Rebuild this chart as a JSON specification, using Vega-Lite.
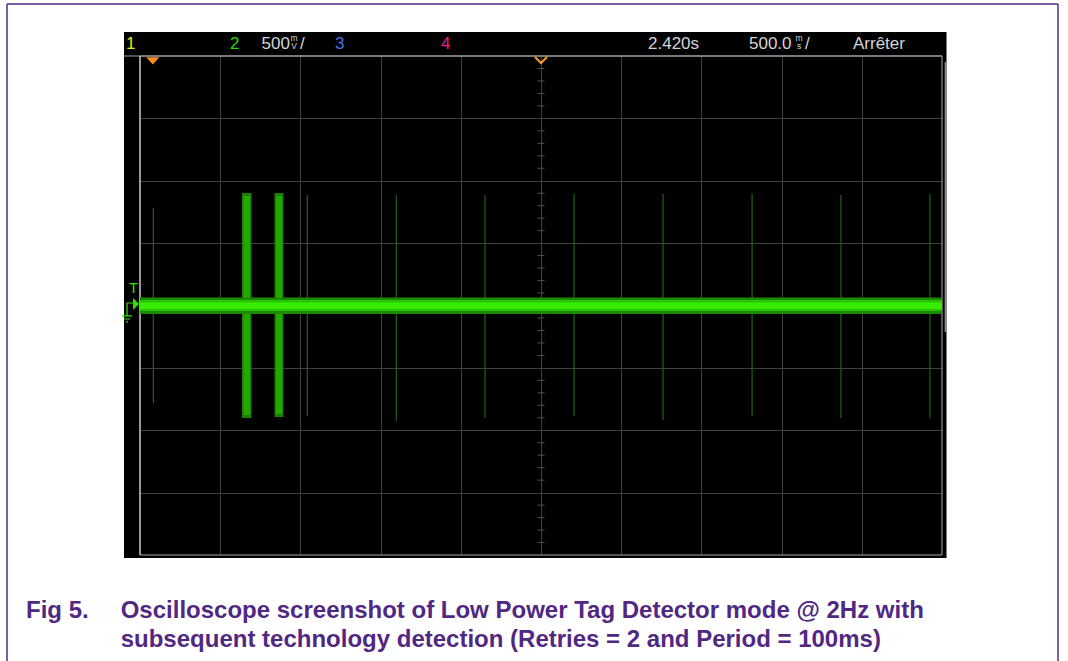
{
  "$schema": "https://vega.github.io/schema/vega-lite/v6.json",
  "width": 802,
  "height": 499,
  "padding": {"left": 140, "top": 56, "right": 126, "bottom": 106},
  "autosize": {"type": "none"},
  "background": "white",
  "config": {"view": {"fill": "black", "stroke": null}},
  "resolve": {"scale": {"color": "independent"}},
  "encoding": {
    "x": {"field": "t", "type": "quantitative",
      "scale": {"domain": [-0.08, 4.92], "nice": false, "zero": false},
      "axis": {"values": [0.42, 0.92, 1.42, 1.92, 2.42, 2.92, 3.42, 3.92, 4.42], "grid": true, "gridColor": "#404040", "gridWidth": 1, "labels": false, "ticks": false, "domain": false, "title": null}},
    "y": {"field": "v", "type": "quantitative",
      "scale": {"domain": [-2, 2], "nice": false, "zero": false},
      "axis": {"values": [-1.5, -1, -0.5, 0, 0.5, 1, 1.5], "grid": true, "gridColor": "#404040", "gridWidth": 1, "labels": false, "ticks": false, "domain": false, "title": null}}
  },
  "layer": [
    {
      "data": {"values": [
        {"t": -0.1798, "t2": 4.9481, "v": 2.0, "v2": 2.1924},
        {"t": -0.1798, "t2": 4.9481, "v": -2.024, "v2": -2.0},
        {"t": -0.1798, "t2": -0.08, "v": -2.0, "v2": 2.0},
        {"t": 4.92, "t2": 4.9481, "v": -2.0, "v2": 2.0}
      ]},
      "mark": {"type": "rect", "color": "black"},
      "encoding": {"x2": {"field": "t2"}, "y2": {"field": "v2"}}
    },
    {
      "data": {"values": [{"t": -0.08, "t2": 4.92, "v": -2, "v2": 2}]},
      "mark": {"type": "rect", "fillOpacity": 0, "stroke": "#a8a8a8", "strokeWidth": 1},
      "encoding": {"x2": {"field": "t2"}, "y2": {"field": "v2"}}
    },
    {
      "data": {"values": [
        {"t": -0.1798, "t2": 4.92, "v": 2.0, "v2": 2.0}
      ]},
      "mark": {"type": "rule", "color": "#a0a0a0", "strokeWidth": 1},
      "encoding": {"x2": {"field": "t2"}, "y2": {"field": "v2"}}
    },
    {
      "data": {"values": [{"t": -0.08, "v": -2.0, "v2": 2.0}]},
      "mark": {"type": "rule", "color": "#e0e0e0", "strokeWidth": 1},
      "encoding": {"y2": {"field": "v2"}}
    },
    {
      "data": {"values": [{"t": 4.943, "v": 1.952, "v2": -0.2124}]},
      "mark": {"type": "rule", "color": "#8c8c8c", "strokeWidth": 2},
      "encoding": {"y2": {"field": "v2"}}
    },
    {
      "data": {"values": [
        {"t": 2.42, "v": 1.9}, {"t": 2.42, "v": 1.8}, {"t": 2.42, "v": 1.7}, {"t": 2.42, "v": 1.6},
        {"t": 2.42, "v": 1.4}, {"t": 2.42, "v": 1.3}, {"t": 2.42, "v": 1.2}, {"t": 2.42, "v": 1.1},
        {"t": 2.42, "v": 0.9}, {"t": 2.42, "v": 0.8}, {"t": 2.42, "v": 0.7}, {"t": 2.42, "v": 0.6},
        {"t": 2.42, "v": 0.4}, {"t": 2.42, "v": 0.3}, {"t": 2.42, "v": 0.2}, {"t": 2.42, "v": 0.1},
        {"t": 2.42, "v": -0.1}, {"t": 2.42, "v": -0.2}, {"t": 2.42, "v": -0.3}, {"t": 2.42, "v": -0.4},
        {"t": 2.42, "v": -0.6}, {"t": 2.42, "v": -0.7}, {"t": 2.42, "v": -0.8}, {"t": 2.42, "v": -0.9},
        {"t": 2.42, "v": -1.1}, {"t": 2.42, "v": -1.2}, {"t": 2.42, "v": -1.3}, {"t": 2.42, "v": -1.4},
        {"t": 2.42, "v": -1.6}, {"t": 2.42, "v": -1.7}, {"t": 2.42, "v": -1.8}, {"t": 2.42, "v": -1.9}
      ]},
      "mark": {"type": "tick", "orient": "horizontal", "size": 7, "thickness": 1, "color": "#505050", "opacity": 1}
    },
    {
      "data": {"values": [
        {"t": 0.003, "v": 0.7816, "v2": -0.7816},
        {"t": 0.963, "v": 0.8858, "v2": -0.8858},
        {"t": 1.518, "v": 0.8858, "v2": -0.9259},
        {"t": 2.071, "v": 0.8858, "v2": -0.9018},
        {"t": 2.626, "v": 0.8962, "v2": -0.8858},
        {"t": 3.181, "v": 0.8962, "v2": -0.9178},
        {"t": 3.736, "v": 0.8962, "v2": -0.8858},
        {"t": 4.29, "v": 0.8858, "v2": -0.9018},
        {"t": 4.845, "v": 0.8962, "v2": -0.9018}
      ]},
      "mark": {"type": "rule", "color": "#1f6414", "strokeWidth": 1.2},
      "encoding": {"y2": {"field": "v2"}}
    },
    {
      "data": {"values": [
        {"t": 0.5559, "t2": 0.6151, "v": 0.9018, "v2": -0.9018, "part": "burstEdge"},
        {"t": 0.7585, "t2": 0.8146, "v": 0.9018, "v2": -0.8938, "part": "burstEdge"},
        {"t": 0.5653, "t2": 0.6058, "v": 0.8778, "v2": -0.8778, "part": "burstBody"},
        {"t": 0.7679, "t2": 0.8053, "v": 0.8778, "v2": -0.8698, "part": "burstBody"},
        {"t": -0.08, "t2": 4.92, "v": 0.0641, "v2": -0.0681, "part": "bandEdge"},
        {"t": -0.08, "t2": 4.92, "v": 0.0441, "v2": -0.0441, "part": "bandBody"},
        {"t": -0.08, "t2": 4.92, "v": 0.024, "v2": -0.028, "part": "bandCore"}
      ]},
      "mark": {"type": "rect", "opacity": 1},
      "encoding": {
        "x2": {"field": "t2"}, "y2": {"field": "v2"},
        "color": {"field": "part", "type": "nominal", "legend": null,
          "scale": {"domain": ["burstEdge", "burstBody", "bandEdge", "bandBody", "bandCore"],
                    "range": ["#1c8006", "#23a800", "#1c8a00", "#28c400", "#38ee00"]}}
      }
    },
    {
      "data": {"values": [{"t": 0, "v": 1.9615}]},
      "mark": {"type": "point", "shape": "M-1,-0.55L1,-0.55L0,0.55Z", "size": 169, "filled": true, "color": "#ff8a1e", "opacity": 1}
    },
    {
      "data": {"values": [{"t": 2.42, "v": 1.9679}]},
      "mark": {"type": "point", "shape": "M-1,-0.5L0,0.5L1,-0.5", "size": 144, "filled": false, "color": "#ff9a2a", "strokeWidth": 2, "opacity": 1}
    },
    {
      "data": {"values": [{"t": -0.1049, "v": 0.012}]},
      "mark": {"type": "point", "shape": "M-0.5,-1L0.5,0L-0.5,1Z", "size": 144, "filled": true, "color": "#2ee000", "opacity": 1}
    },
    {
      "data": {"values": [{"t": -0.1548, "v": -0.0521}]},
      "mark": {"type": "point", "shape": "M0.56,-1L-0.11,-1L-0.11,0.44M-0.67,0.44L0.44,0.44M-0.44,0.78L0.22,0.78M-0.22,1.1L0,1.1", "size": 324, "filled": false, "color": "#2ee000", "strokeWidth": 1.2, "opacity": 1}
    },
    {
      "data": {"values": [{"t": -0.1205, "v": 0.1002, "label": "T"}]},
      "mark": {"type": "text", "font": "'Liberation Sans', sans-serif", "fontSize": 15, "align": "center", "baseline": "alphabetic", "color": "#2ee000"},
      "encoding": {"text": {"field": "label"}}
    },
    {
      "data": {"values": [
        {"t": -0.1673, "v": 2.0601, "label": "1", "ch": "1"},
        {"t": 0.4811, "v": 2.0601, "label": "2", "ch": "2"},
        {"t": 0.6775, "v": 2.0601, "label": "500", "ch": "info"},
        {"t": 0.9175, "v": 2.0601, "label": "/", "ch": "info"},
        {"t": 1.1357, "v": 2.0601, "label": "3", "ch": "3"},
        {"t": 1.7966, "v": 2.0601, "label": "4", "ch": "4"},
        {"t": 3.0871, "v": 2.0601, "label": "2.420s", "ch": "info"},
        {"t": 3.7168, "v": 2.0601, "label": "500.0", "ch": "info"},
        {"t": 4.0659, "v": 2.0601, "label": "/", "ch": "info"},
        {"t": 4.3651, "v": 2.0601, "label": "Arrêter", "ch": "info"}
      ]},
      "mark": {"type": "text", "font": "'Liberation Sans', sans-serif", "fontSize": 17, "align": "left", "baseline": "alphabetic"},
      "encoding": {
        "text": {"field": "label"},
        "color": {"field": "ch", "type": "nominal", "legend": null,
          "scale": {"domain": ["1", "2", "3", "4", "info"], "range": ["#e6e619", "#2ad400", "#4a72e8", "#ee1a7c", "#d4d4d4"]}}
      }
    },
    {
      "data": {"values": [
        {"t": 0.8802, "v": 2.1242, "label": "m"},
        {"t": 0.8802, "v": 2.0601, "label": "V"},
        {"t": 4.0285, "v": 2.1242, "label": "m"},
        {"t": 4.0285, "v": 2.0601, "label": "s"}
      ]},
      "mark": {"type": "text", "font": "'Liberation Sans', sans-serif", "fontSize": 8.5, "align": "center", "baseline": "alphabetic", "color": "#d4d4d4"},
      "encoding": {"text": {"field": "label"}}
    },
    {
      "data": {"values": [
        {"t": -0.7907, "v": -2.509, "label": "Fig 5."},
        {"t": -0.2003, "v": -2.509, "label": "Oscilloscope screenshot of Low Power Tag Detector mode @ 2Hz with"},
        {"t": -0.2003, "v": -2.7335, "label": "subsequent technology detection (Retries = 2 and Period = 100ms)"}
      ]},
      "mark": {"type": "text", "font": "'Liberation Sans', Arial, sans-serif", "fontWeight": "bold", "fontSize": 24, "align": "left", "baseline": "alphabetic", "color": "#502882"},
      "encoding": {"text": {"field": "label"}}
    },
    {
      "data": {"values": [
        {"t": -0.9092, "t2": 5.6432, "v": 2.4168, "v2": 2.4168},
        {"t": -0.9092, "t2": -0.9092, "v": 2.4168, "v2": -3.0},
        {"t": 5.6432, "t2": 5.6432, "v": 2.4168, "v2": -3.0}
      ]},
      "mark": {"type": "rule", "color": "#4f2d85", "strokeWidth": 1.5},
      "encoding": {"x2": {"field": "t2"}, "y2": {"field": "v2"}}
    }
  ]
}
